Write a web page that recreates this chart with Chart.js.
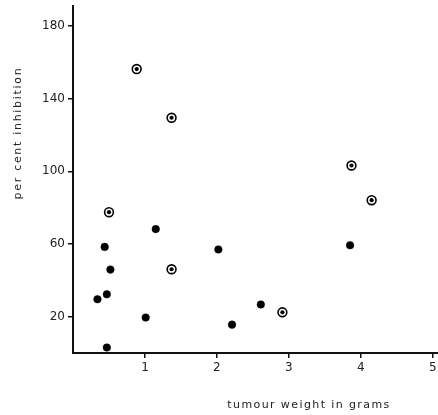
<!DOCTYPE html>
<html>
<head>
<meta charset="utf-8">
<script src="https://cdn.jsdelivr.net/npm/chart.js@4/dist/chart.umd.min.js"></script>
<style>
html,body{margin:0;padding:0;background:#fff;overflow:hidden;}
#wrap{width:438px;height:415px;position:relative;overflow:hidden;}
</style>
</head>
<body>
<div id="wrap"><canvas id="c" width="446" height="415"></canvas></div>
<script>
// Data (tumour weight in grams, per cent inhibition)
const solidX = [0.34, 0.47, 0.44, 0.52, 0.47, 1.01, 1.15, 2.02, 2.21, 2.61, 3.85];
const solidY = [29.6, 32.3, 58.4, 45.9, 3.0, 19.5, 68.2, 57.0, 15.6, 26.7, 59.3];
const ringX = [0.50, 0.885, 1.37, 1.37, 2.91, 3.87, 4.15];
const ringY = [77.5, 156.3, 129.5, 46.1, 22.4, 103.2, 84.1];
const xTicks = [1, 2, 3, 4, 5];
const yTicks = [20, 60, 100, 140, 180];
const xTitle = 'tumour weight in grams';
const yTitle = 'per cent inhibition';

const FONT = '"DejaVu Sans", sans-serif';

const titles = {
  id: 'titles',
  afterDraw(chart) {
    const ctx = chart.ctx;
    ctx.save();
    ctx.fillStyle = '#222';
    ctx.font = '11px ' + FONT;
    ctx.textAlign = 'center';
    ctx.textBaseline = 'middle';
    try { ctx.letterSpacing = '1.4px'; } catch(e) {}
    ctx.fillText(xTitle, 309, 405);
    try { ctx.letterSpacing = '1.7px'; } catch(e) {}
    ctx.translate(18, 133);
    ctx.rotate(-Math.PI/2);
    ctx.fillText(yTitle, 0, 0);
    ctx.restore();
  }
};

new Chart(document.getElementById('c'), {
  type: 'scatter',
  data: {
    datasets: [
      {
        order: 1,
        data: solidX.map((x,i)=>({x:x, y:solidY[i]})),
        pointRadius: 3.8,
        pointBackgroundColor: '#000',
        pointBorderColor: '#000',
        pointBorderWidth: 0.5,
        pointHoverRadius: 3.8
      },
      {
        order: 3,
        data: ringX.map((x,i)=>({x:x, y:ringY[i]})),
        pointRadius: 4.4,
        pointBackgroundColor: '#fff',
        pointBorderColor: '#000',
        pointBorderWidth: 1.6,
        pointHoverRadius: 4.4
      },
      {
        order: 2,
        data: ringX.map((x,i)=>({x:x, y:ringY[i]})),
        pointRadius: 2.1,
        pointBackgroundColor: '#000',
        pointBorderColor: '#000',
        pointBorderWidth: 0,
        pointHoverRadius: 2.1
      }
    ]
  },
  plugins: [titles],
  options: {
    responsive: false,
    animation: false,
    events: [],
    layout: { padding: { top: 2, right: 0, left: 0, bottom: 0 } },
    plugins: { legend: { display: false }, tooltip: { enabled: false } },
    scales: {
      x: {
        type: 'linear',
        min: 0, max: 5.1,
        afterBuildTicks: s => { s.ticks = xTicks.map(v=>({value:v})); },
        afterFit: s => { s.height = 62; },
        grid: { drawOnChartArea: false, drawTicks: true, tickLength: 5, color: '#111', lineWidth: 1.5 },
        border: { color: '#111', width: 2 },
        ticks: { color: '#222', font: { family: FONT, size: 12 }, padding: 3, maxRotation: 0 }
      },
      y: {
        type: 'linear',
        min: 0, max: 191,
        afterBuildTicks: s => { s.ticks = yTicks.map(v=>({value:v})); },
        afterFit: s => { s.width = 73; s.paddingTop = 0; s.paddingBottom = 0; },
        grid: { drawOnChartArea: false, drawTicks: true, tickLength: 5, color: '#111', lineWidth: 1.5 },
        border: { color: '#111', width: 2 },
        ticks: { color: '#222', font: { family: FONT, size: 12 }, padding: 3 }
      }
    }
  }
});
</script>
</body>
</html>
